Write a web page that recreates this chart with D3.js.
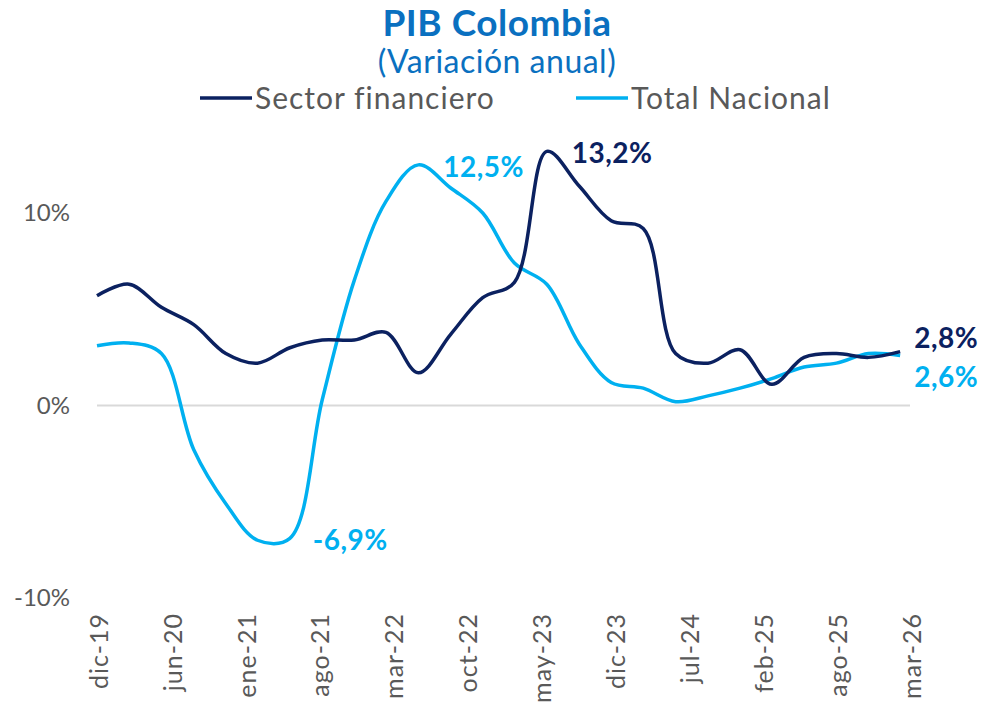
<!DOCTYPE html>
<html>
<head>
<meta charset="utf-8">
<script src="https://cdn.jsdelivr.net/npm/d3@7"></script>
<style>
  body { margin: 0; background: #fff; }
  svg { font-family: Lato, "Noto Sans", sans-serif; }
</style>
</head>
<body>
<div id="chart"></div>
<script>
// quarterly points, first day of the quarter-end month
var dates = ["2019-12-01","2020-03-01","2020-06-01","2020-09-01","2020-12-01","2021-03-01","2021-06-01","2021-09-01",
             "2021-12-01","2022-03-01","2022-06-01","2022-09-01","2022-12-01","2023-03-01","2023-06-01","2023-09-01",
             "2023-12-01","2024-03-01","2024-06-01","2024-09-01","2024-12-01","2025-03-01","2025-06-01","2025-09-01",
             "2025-12-01","2026-03-01"];
var sectorFinanciero = [5.7, 6.3, 5.1, 4.2, 2.7, 2.2, 3.0, 3.4, 3.4, 3.8, 1.7, 3.7, 5.6, 6.4, 13.2, 11.4,
                        9.6, 9.2, 2.7, 2.2, 2.9, 1.1, 2.5, 2.7, 2.5, 2.8];
var totalNacional = [3.1, 3.25, 2.7, -2.3, -5.1, -7.0, -6.9, 0.3, 6.5, 10.6, 12.5, 11.3, 10.0, 7.4, 6.3, 3.2,
                     1.2, 0.9, 0.2, 0.5, 0.9, 1.4, 2.0, 2.2, 2.7, 2.6];
var tickLabels = ["dic-19","jun-20","ene-21","ago-21","mar-22","oct-22","may-23","dic-23","jul-24","feb-25","ago-25","mar-26"];
var yTicks = [-10, 0, 10];
// labelled points: [series, index, text]
var callouts = [["sf", 14, "13,2%"], ["tn", 10, "12,5%"], ["tn", 6, "-6,9%"], ["sf", 25, "2,8%"], ["tn", 25, "2,6%"]];

var width = 987, height = 717;
var darkBlue = "#0b2160", lightBlue = "#00b0f0";

var svg = d3.select("#chart").append("svg")
    .attr("width", width)
    .attr("height", height);

var parse = d3.timeParse("%Y-%m-%d");
var start = parse(dates[0]);
// axis ticks every 210 days from the first date
var tickDates = tickLabels.map(function(d, i) { return d3.timeDay.offset(start, i * 210); });

var x = d3.scaleTime()
    .domain([start, tickDates[tickDates.length - 1]])
    .range([97, 910]);
var y = d3.scaleLinear().domain([-10, 10]).range([598, 213]);

var fmtTick = function(v) { return v + "%"; };

// zero gridline
svg.append("line")
    .attr("x1", x.range()[0]).attr("x2", x.range()[1])
    .attr("y1", y(0)).attr("y2", y(0))
    .style("stroke", "#d9d9d9").style("stroke-width", 2);

// y axis labels
svg.selectAll(".ytick")
    .data(yTicks)
  .enter().append("text")
    .attr("class", "ytick")
    .attr("x", 70)
    .attr("y", function(d) { return y(d); })
    .attr("dy", "0.35em")
    .attr("text-anchor", "end")
    .style("font-size", "24px")
    .style("fill", "#595959")
    .text(fmtTick);

// x axis labels, rotated
svg.selectAll(".xtick")
    .data(tickDates)
  .enter().append("text")
    .attr("class", "xtick")
    .attr("transform", function(d) { return "translate(" + (x(d) + 2) + ",613) rotate(-90)"; })
    .attr("dy", "0.35em")
    .attr("text-anchor", "end")
    .style("font-size", "25px")
    .style("letter-spacing", "1px")
    .style("fill", "#595959")
    .text(function(d, i) { return tickLabels[i]; });

var sf = dates.map(function(d, i) { return { date: parse(d), value: sectorFinanciero[i] }; });
var tn = dates.map(function(d, i) { return { date: parse(d), value: totalNacional[i] }; });

var line = d3.line()
    .x(function(d) { return x(d.date); })
    .y(function(d) { return y(d.value); })
    .curve(d3.curveCatmullRom.alpha(0.5));

svg.append("path").datum(tn)
    .attr("d", line)
    .style("fill", "none").style("stroke", lightBlue).style("stroke-width", 3.5);
svg.append("path").datum(sf)
    .attr("d", line)
    .style("fill", "none").style("stroke", darkBlue).style("stroke-width", 3.5);

// data callouts
var offsets = { "13,2%": [25, 2], "12,5%": [25, 2], "-6,9%": [23, 2], "2,8%": [14, -13], "2,6%": [14, 22] };
svg.selectAll(".callout")
    .data(callouts)
  .enter().append("text")
    .attr("class", "callout")
    .attr("x", function(d) { return x(parse(dates[d[1]])) + offsets[d[2]][0]; })
    .attr("y", function(d) {
      var v = d[0] == "sf" ? sectorFinanciero[d[1]] : totalNacional[d[1]];
      return y(v) + offsets[d[2]][1];
    })
    .attr("dy", "0.35em")
    .style("font-size", "28px")
    .style("font-weight", "bold")
    .style("letter-spacing", "0.5px")
    .style("fill", function(d) { return d[0] == "sf" ? darkBlue : lightBlue; })
    .text(function(d) { return d[2]; });

// title
svg.append("text")
    .attr("x", 497).attr("y", 36)
    .attr("text-anchor", "middle")
    .style("font-size", "37px").style("font-weight", "bold")
    .style("letter-spacing", "0.5px")
    .style("fill", "#0a70c0")
    .text("PIB Colombia");
svg.append("text")
    .attr("x", 497).attr("y", 73)
    .attr("text-anchor", "middle")
    .style("font-size", "32px")
    .style("letter-spacing", "0.5px")
    .style("fill", "#0a70c0")
    .text("(Variación anual)");

// legend
var legend = [["Sector financiero", darkBlue, 200], ["Total Nacional", lightBlue, 576]];
var lg = svg.selectAll(".legend")
    .data(legend)
  .enter().append("g")
    .attr("class", "legend")
    .attr("transform", function(d) { return "translate(" + d[2] + ",98)"; });
lg.append("line")
    .attr("x1", 0).attr("x2", 52)
    .style("stroke", function(d) { return d[1]; })
    .style("stroke-width", 3.5);
lg.append("text")
    .attr("x", 55)
    .attr("dy", "0.35em")
    .style("font-size", "30px")
    .style("letter-spacing", "1px")
    .style("fill", "#595959")
    .text(function(d) { return d[0]; });
</script>
</body>
</html>
